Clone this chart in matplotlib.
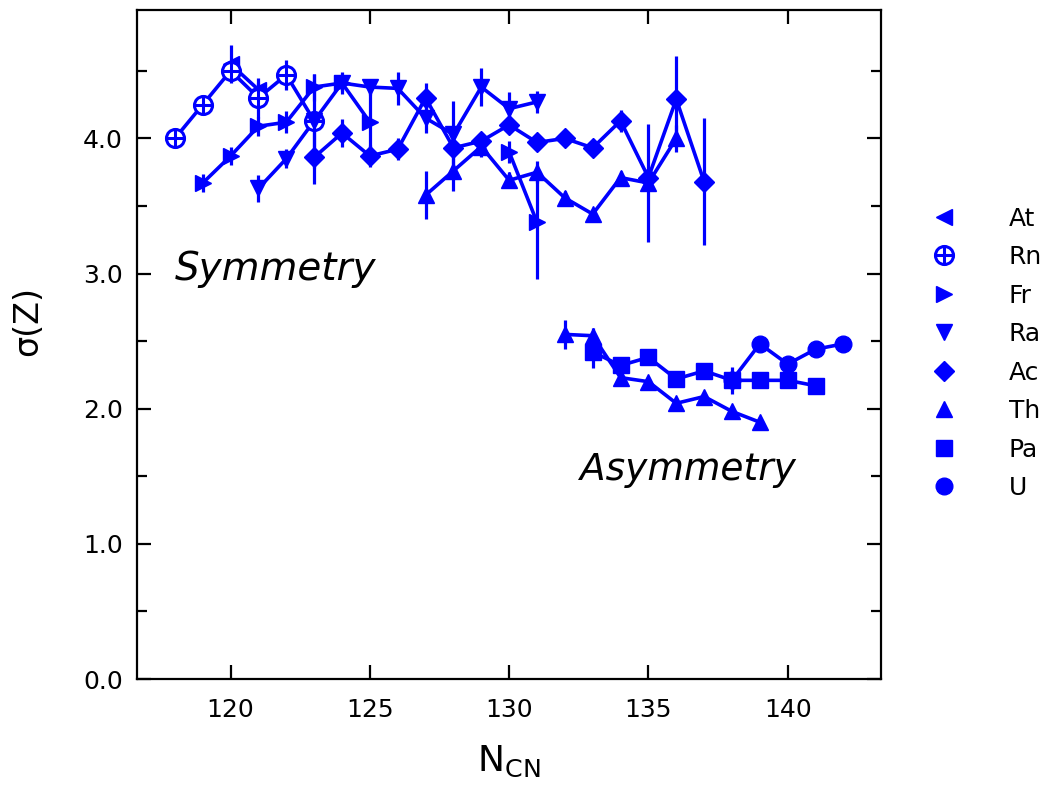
import numpy as np
import matplotlib
matplotlib.use('Agg')
import matplotlib.pyplot as plt
from matplotlib.lines import Line2D
from matplotlib.ticker import MultipleLocator, FormatStrFormatter

# sigma(Z) versus neutron number of the compound nucleus
at_n = [120, 121]
at_s = [4.55, 4.36]
at_e = [0.14, 0.05]

rn_n = [118, 119, 120, 121, 122, 123]
rn_s = [4.00, 4.25, 4.50, 4.30, 4.47, 4.13]
rn_e = [0.05, 0.07, 0.06, 0.15, 0.11, 0.35]

fr_n = [119, 120, 121, 122, 123, 124, 125, 130, 131]
fr_s = [3.67, 3.87, 4.09, 4.12, 4.38, 4.41, 4.12, 3.90, 3.38]
fr_e = [0.07, 0.07, 0.07, 0.08, 0.10, 0.06, 0.25, 0.08, 0.42]

ra_n = [121, 122, 123, 124, 125, 126, 127, 128, 129, 130, 131]
ra_s = [3.63, 3.85, 4.13, 4.41, 4.38, 4.37, 4.15, 4.03, 4.38, 4.22, 4.27]
ra_e = [0.10, 0.07, 0.0, 0.08, 0.06, 0.12, 0.11, 0.25, 0.14, 0.12, 0.08]

ac_n = [123, 124, 125, 126, 127, 128, 129, 130, 131, 132, 133, 134, 135, 136, 137]
ac_s = [3.86, 4.04, 3.87, 3.92, 4.30, 3.93, 3.98, 4.10, 3.97, 4.00, 3.93, 4.13, 3.71, 4.29, 3.68]
ac_e = [0.20, 0.10, 0.08, 0.08, 0.11, 0.05, 0.06, 0.06, 0.04, 0.03, 0.05, 0.08, 0.05, 0.32, 0.47]

th_sym_n = [127, 128, 129, 130, 131, 132, 133, 134, 135, 136]
th_sym_s = [3.58, 3.76, 3.94, 3.69, 3.75, 3.56, 3.44, 3.71, 3.67, 4.00]
th_sym_e = [0.18, 0.15, 0.08, 0.06, 0.08, 0.05, 0.04, 0.05, 0.44, 0.10]

th_asy_n = [132, 133, 134, 135, 136, 137, 138, 139]
th_asy_s = [2.55, 2.54, 2.23, 2.20, 2.04, 2.09, 1.98, 1.90]
th_asy_e = [0.11, 0.06, 0.05, 0.02, 0.02, 0.02, 0.02, 0.02]

pa_n = [133, 134, 135, 136, 137, 138, 139, 140, 141]
pa_s = [2.42, 2.32, 2.38, 2.22, 2.28, 2.21, 2.21, 2.21, 2.17]
pa_e = [0.12, 0.06, 0.03, 0.03, 0.03, 0.10, 0.03, 0.03, 0.03]

u_n = [138, 139, 140, 141, 142]
u_s = [2.21, 2.48, 2.33, 2.44, 2.48]
u_e = [0.02, 0.03, 0.03, 0.03, 0.02]

legend_names = ['At', 'Rn', 'Fr', 'Ra', 'Ac', 'Th', 'Pa', 'U']

blue = '#0000ff'
lw = 2.6
ms = 12


def draw_series(ax, n, s, e, marker, size=ms, open_marker=False):
    n = np.array(n, dtype=float)
    s = np.array(s, dtype=float)
    e = np.array(e, dtype=float)
    # break the line where neutron numbers are missing
    breaks = np.where(np.diff(n) > 1)[0] + 1
    for part_n, part_s in zip(np.split(n, breaks), np.split(s, breaks)):
        ax.plot(part_n, part_s, color=blue, lw=lw, zorder=2)
    ax.errorbar(n, s, yerr=e, fmt='none', ecolor=blue, elinewidth=2.3, capsize=0, zorder=2)
    if open_marker:
        ax.plot(n, s, linestyle='none', marker='o', ms=size, mfc='white', mec=blue, mew=2.2, zorder=3)
        ax.plot(n, s, linestyle='none', marker='+', ms=size, mec=blue, mew=2.2, zorder=4)
    else:
        ax.plot(n, s, linestyle='none', marker=marker, ms=size, color=blue, mec=blue, zorder=3)


fig = plt.figure(figsize=(10.58, 7.94), dpi=100)
ax = fig.add_axes([0.1295, 0.1448, 0.7032, 0.8426])

draw_series(ax, at_n, at_s, at_e, '<')
draw_series(ax, rn_n, rn_s, rn_e, 'o', size=13, open_marker=True)
draw_series(ax, fr_n, fr_s, fr_e, '>')
draw_series(ax, ra_n, ra_s, ra_e, 'v')
draw_series(ax, ac_n, ac_s, ac_e, 'D', size=10)
draw_series(ax, th_sym_n, th_sym_s, th_sym_e, '^')
draw_series(ax, th_asy_n, th_asy_s, th_asy_e, '^')
draw_series(ax, pa_n, pa_s, pa_e, 's', size=11)
draw_series(ax, u_n, u_s, u_e, 'o')

ax.set_xlim(116.64, 143.35)
ax.set_ylim(0.0, 4.95)
ax.xaxis.set_major_locator(MultipleLocator(5))
ax.yaxis.set_major_locator(MultipleLocator(1.0))
ax.yaxis.set_minor_locator(MultipleLocator(0.5))
ax.yaxis.set_major_formatter(FormatStrFormatter('%.1f'))

for sp in ax.spines.values():
    sp.set_linewidth(1.6)
ax.tick_params(which='both', direction='in', top=True, right=True, width=1.6, labelsize=18)
ax.tick_params(axis='x', pad=14)
ax.tick_params(axis='y', pad=10)
ax.tick_params(which='major', length=10)
ax.tick_params(which='minor', length=7)

ax.set_xlabel('N$_{\\mathrm{CN}}$', fontsize=26, labelpad=15)
ax.set_ylabel('\u03c3(Z)', fontsize=24)
ax.yaxis.set_label_coords(-0.125, 0.535)

ax.text(118.0, 2.95, 'Symmetry', fontsize=28, style='italic')
ax.text(132.55, 1.47, 'Asymmetry', fontsize=27, style='italic')

# legend on the right, outside the frame
handles = [
    Line2D([], [], ls='none', marker='<', ms=ms, color=blue),
    (Line2D([], [], ls='none', marker='o', ms=13, mfc='white', mec=blue, mew=2.2),
     Line2D([], [], ls='none', marker='+', ms=13, mec=blue, mew=2.2)),
    Line2D([], [], ls='none', marker='>', ms=ms, color=blue),
    Line2D([], [], ls='none', marker='v', ms=ms, color=blue),
    Line2D([], [], ls='none', marker='D', ms=10, color=blue),
    Line2D([], [], ls='none', marker='^', ms=ms, color=blue),
    Line2D([], [], ls='none', marker='s', ms=11, color=blue),
    Line2D([], [], ls='none', marker='o', ms=ms, color=blue),
]
fig.legend(handles, legend_names, loc='center left', bbox_to_anchor=(0.866, 0.555),
           frameon=False, fontsize=18, handlelength=1.2, handletextpad=2.0,
           labelspacing=0.58, borderpad=0)

fig.savefig('out.png', dpi=100)
